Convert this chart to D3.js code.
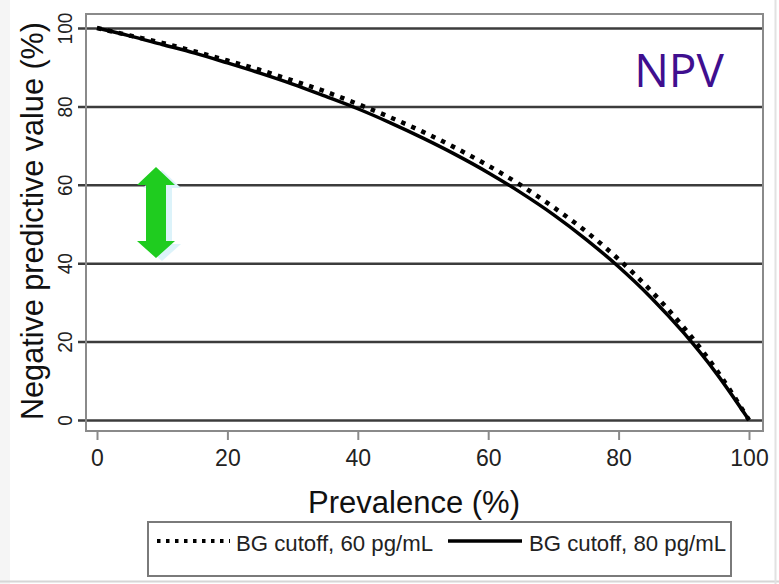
<!DOCTYPE html>
<html>
<head>
<meta charset="utf-8">
<script src="https://cdn.jsdelivr.net/npm/d3@7"></script>
<style>
  html, body { margin: 0; padding: 0; background: #fff; }
  svg { display: block; }
</style>
</head>
<body>
<svg id="chart" width="779" height="584"></svg>
<script>
// ---- data ----
const prevalence = [0, 5, 10, 15, 20, 25, 30, 35, 40, 45, 50, 55, 60, 65, 70, 75, 80, 85, 90, 95, 100];
const npv60 = [100, 98.1, 96.2, 94.0, 91.7, 89.3, 86.6, 83.8, 80.6, 77.2, 73.5, 69.4, 64.9, 59.9, 54.3, 48.1, 41.0, 32.9, 23.6, 12.8, 0];
const npv80 = [100, 98.0, 95.8, 93.6, 91.1, 88.5, 85.7, 82.6, 79.4, 75.8, 71.9, 67.7, 63.1, 58.0, 52.4, 46.1, 39.1, 31.2, 22.2, 11.9, 0];
const xTicks = [0, 20, 40, 60, 80, 100];
const yTicks = [0, 20, 40, 60, 80, 100];
const seriesNames = ["BG cutoff, 60 pg/mL", "BG cutoff, 80 pg/mL"];
const xTitle = "Prevalence (%)";
const yTitle = "Negative predictive value (%)";
const badge = "NPV";

const FONT = "'Liberation Sans', Arial, Helvetica, sans-serif";
const svg = d3.select("#chart");

// slide frame
svg.append("rect").attr("x", 0).attr("y", 0).attr("width", 10).attr("height", 584).attr("fill", "#f5f5f5");
svg.append("line").attr("x1", 0).attr("x2", 779).attr("y1", 581.5).attr("y2", 581.5).attr("stroke", "#d6d6d6").attr("stroke-width", 2);
svg.append("line").attr("x1", 775.5).attr("x2", 775.5).attr("y1", 0).attr("y2", 584).attr("stroke", "#e2e2e2").attr("stroke-width", 2);

const box = {left: 86, right: 763, top: 14, bottom: 431};
const x = d3.scaleLinear().domain([0, 100]).range([97, 749]);
const y = d3.scaleLinear().domain([0, 100]).range([420, 28]);

// y gridlines + labels
const yAxis = svg.append("g")
  .attr("transform", `translate(${box.right},0)`)
  .call(d3.axisLeft(y).tickValues(yTicks).tickSize(box.right - 78).tickPadding(6));
yAxis.select(".domain").remove();
yAxis.selectAll(".tick line").attr("stroke", "#3c3c3c").attr("stroke-width", 2.5);
yAxis.selectAll(".tick text")
  .attr("x", null).attr("dy", null)
  .attr("transform", `translate(${-(box.right - 72)},0) rotate(-90)`)
  .attr("text-anchor", "middle")
  .attr("font-family", FONT).attr("font-size", 21).attr("fill", "#222")
  .attr("textLength", d => String(d).length * 10.6)
  .attr("lengthAdjust", "spacingAndGlyphs");

// frame
svg.append("rect")
  .attr("x", box.left).attr("y", box.top)
  .attr("width", box.right - box.left).attr("height", box.bottom - box.top)
  .attr("fill", "none").attr("stroke", "#8a8a8a").attr("stroke-width", 2);

// x axis
const xAxis = svg.append("g")
  .attr("transform", `translate(0,${box.bottom})`)
  .call(d3.axisBottom(x).tickValues(xTicks).tickSize(9).tickPadding(10));
xAxis.select(".domain").remove();
xAxis.selectAll(".tick line").attr("stroke", "#8a8a8a").attr("stroke-width", 2);
xAxis.selectAll(".tick text")
  .attr("font-family", FONT).attr("font-size", 23).attr("fill", "#222");

// curves
const line = d3.line().x((d, i) => x(prevalence[i])).y(d => y(d)).curve(d3.curveMonotoneX);
svg.append("path").datum(npv80).attr("d", line)
  .attr("fill", "none").attr("stroke", "#000").attr("stroke-width", 3.5);
svg.append("path").datum(npv60).attr("d", line)
  .attr("fill", "none").attr("stroke", "#000").attr("stroke-width", 4.5)
  .attr("stroke-dasharray", "4.5,6.5");

// titles
svg.append("text").text(xTitle)
  .attr("x", 414).attr("y", 513).attr("text-anchor", "middle")
  .attr("font-family", FONT).attr("font-size", 31).attr("fill", "#111")
  .attr("textLength", 212).attr("lengthAdjust", "spacingAndGlyphs");
svg.append("text").text(yTitle)
  .attr("transform", "translate(43,221) rotate(-90)")
  .attr("text-anchor", "middle")
  .attr("font-family", FONT).attr("font-size", 32).attr("fill", "#111")
  .attr("textLength", 398).attr("lengthAdjust", "spacingAndGlyphs");

// NPV badge
svg.append("text").text(badge)
  .attr("x", 679).attr("y", 87).attr("text-anchor", "middle")
  .attr("font-family", "'Open Sans', 'Noto Sans', sans-serif").attr("font-size", 46)
  .attr("fill", "#3f0f8f");

// green double arrow
const arrowPts = [[156,167],[175,185],[166,185],[166,241],[175,241],[156,258],[137,241],[146,241],[146,185],[137,185]];
svg.append("polygon")
  .attr("points", arrowPts.map(p => [p[0] + 6, p[1] + 3].join(",")).join(" "))
  .attr("fill", "#dcf3fa");
svg.append("polygon")
  .attr("points", arrowPts.map(p => p.join(",")).join(" "))
  .attr("fill", "#1fcc1f");

// legend
const leg = svg.append("g");
leg.append("rect").attr("x", 148).attr("y", 522).attr("width", 583).attr("height", 54)
  .attr("fill", "#fff").attr("stroke", "#7a7a7a").attr("stroke-width", 2);
leg.append("line").attr("x1", 157).attr("x2", 230).attr("y1", 541).attr("y2", 541)
  .attr("stroke", "#000").attr("stroke-width", 4).attr("stroke-dasharray", "3.5,5.5");
leg.append("text").text(seriesNames[0]).attr("x", 236).attr("y", 551)
  .attr("font-family", FONT).attr("font-size", 22).attr("fill", "#222")
  .attr("textLength", 197).attr("lengthAdjust", "spacingAndGlyphs");
leg.append("line").attr("x1", 448).attr("x2", 522).attr("y1", 541).attr("y2", 541)
  .attr("stroke", "#000").attr("stroke-width", 3.5);
leg.append("text").text(seriesNames[1]).attr("x", 529).attr("y", 551)
  .attr("font-family", FONT).attr("font-size", 22).attr("fill", "#222")
  .attr("textLength", 197).attr("lengthAdjust", "spacingAndGlyphs");
</script>
</body>
</html>
